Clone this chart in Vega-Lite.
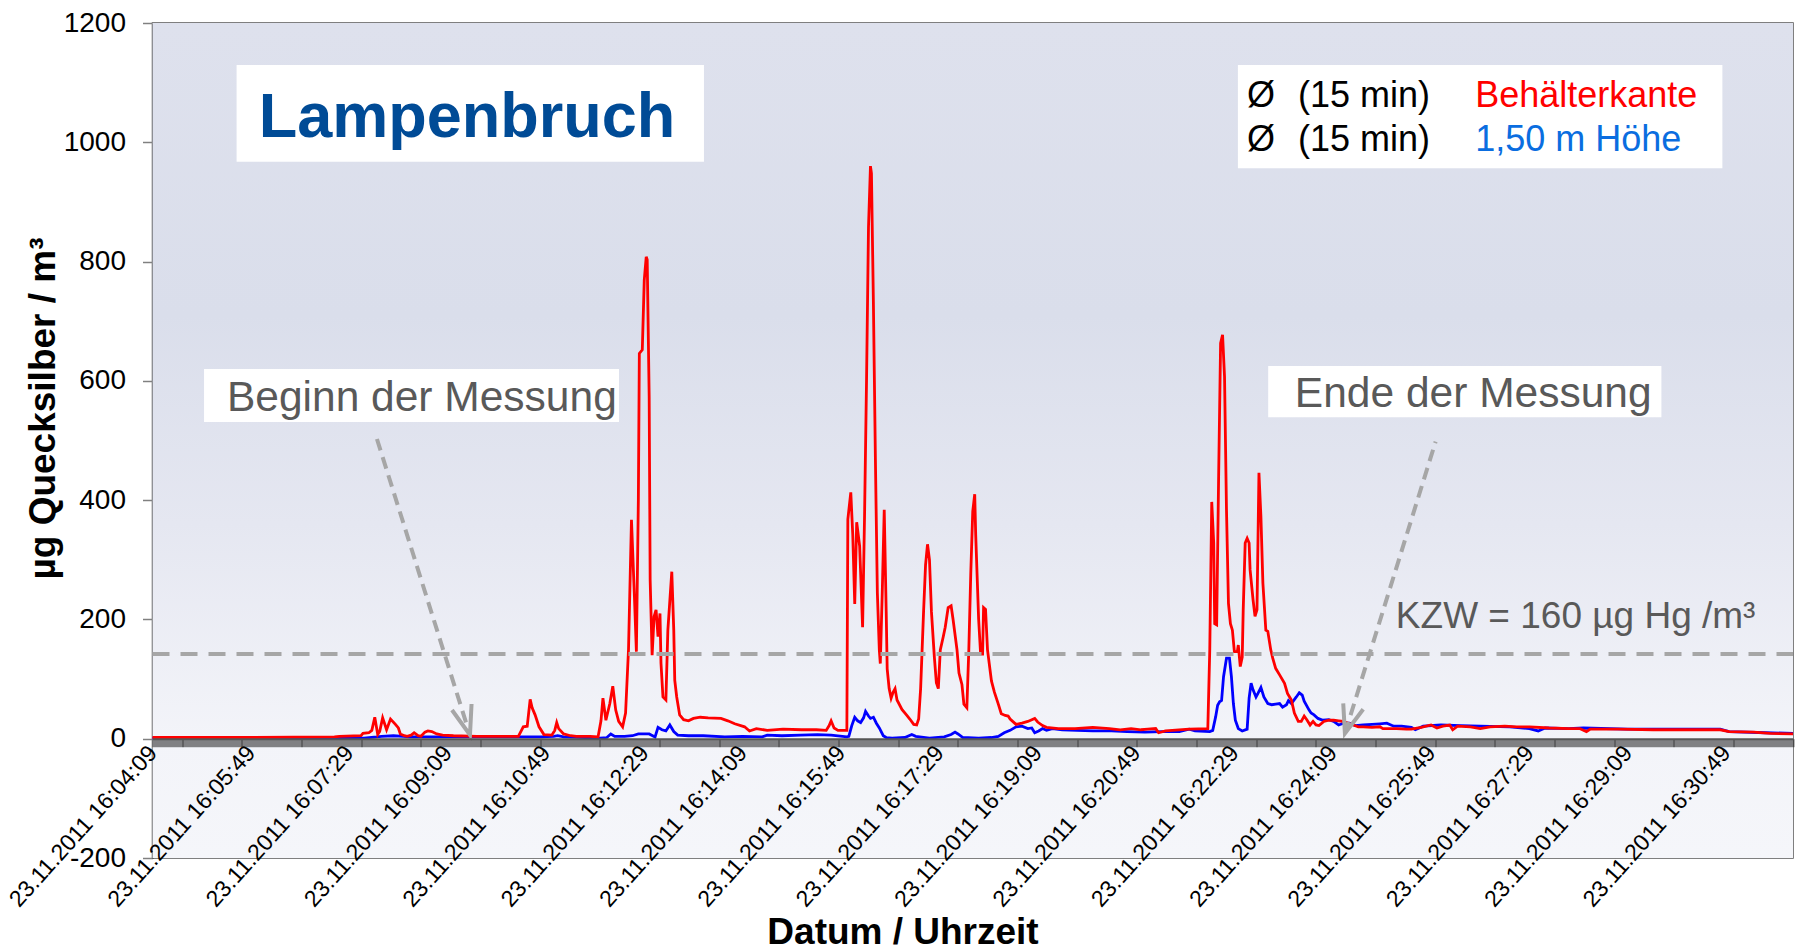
{
"$schema": "https://vega.github.io/schema/vega-lite/v6.json",
"width": 1640.5, "height": 835,
"autosize": {"type": "none"},
"padding": {"left": 152.5, "top": 23, "right": 5, "bottom": 93},
"background": "white",
"view": {"stroke": "#555555", "strokeWidth": 1.5},
"config": {"font": "Liberation Sans"},
"datasets": {
"red": [
{"t":"2011-11-23T16:04:09","v":2},{"t":"2011-11-23T16:05:49","v":2},{"t":"2011-11-23T16:07:14","v":3},{"t":"2011-11-23T16:07:19","v":4},{"t":"2011-11-23T16:07:41","v":5},{"t":"2011-11-23T16:07:43","v":9},{"t":"2011-11-23T16:07:49","v":10},{"t":"2011-11-23T16:07:52","v":14},{"t":"2011-11-23T16:07:55","v":36},{"t":"2011-11-23T16:07:58","v":7},{"t":"2011-11-23T16:08:00","v":12},{"t":"2011-11-23T16:08:03","v":35},{"t":"2011-11-23T16:08:07","v":15},{"t":"2011-11-23T16:08:11","v":33},{"t":"2011-11-23T16:08:16","v":24},{"t":"2011-11-23T16:08:19","v":18},{"t":"2011-11-23T16:08:21","v":8},{"t":"2011-11-23T16:08:25","v":5},{"t":"2011-11-23T16:08:28","v":4},{"t":"2011-11-23T16:08:32","v":6},{"t":"2011-11-23T16:08:35","v":10},{"t":"2011-11-23T16:08:39","v":5},{"t":"2011-11-23T16:08:42","v":4},{"t":"2011-11-23T16:08:46","v":11},{"t":"2011-11-23T16:08:49","v":13},{"t":"2011-11-23T16:08:53","v":12},{"t":"2011-11-23T16:08:58","v":8},{"t":"2011-11-23T16:09:04","v":6},{"t":"2011-11-23T16:09:15","v":5},{"t":"2011-11-23T16:09:39","v":4},{"t":"2011-11-23T16:10:21","v":4},{"t":"2011-11-23T16:10:26","v":20},{"t":"2011-11-23T16:10:30","v":21},{"t":"2011-11-23T16:10:33","v":66},{"t":"2011-11-23T16:10:35","v":52},{"t":"2011-11-23T16:10:38","v":40},{"t":"2011-11-23T16:10:42","v":20},{"t":"2011-11-23T16:10:47","v":7},{"t":"2011-11-23T16:10:55","v":6},{"t":"2011-11-23T16:10:58","v":14},{"t":"2011-11-23T16:11:00","v":27},{"t":"2011-11-23T16:11:02","v":17},{"t":"2011-11-23T16:11:07","v":8},{"t":"2011-11-23T16:11:14","v":5},{"t":"2011-11-23T16:11:20","v":4},{"t":"2011-11-23T16:11:34","v":4},{"t":"2011-11-23T16:11:42","v":3},{"t":"2011-11-23T16:11:45","v":30},{"t":"2011-11-23T16:11:47","v":68},{"t":"2011-11-23T16:11:50","v":31},{"t":"2011-11-23T16:11:54","v":59},{"t":"2011-11-23T16:11:57","v":88},{"t":"2011-11-23T16:12:00","v":48},{"t":"2011-11-23T16:12:03","v":29},{"t":"2011-11-23T16:12:07","v":20},{"t":"2011-11-23T16:12:10","v":43},{"t":"2011-11-23T16:12:13","v":150},{"t":"2011-11-23T16:12:16","v":367},{"t":"2011-11-23T16:12:19","v":238},{"t":"2011-11-23T16:12:21","v":146},{"t":"2011-11-23T16:12:23","v":400},{"t":"2011-11-23T16:12:24","v":646},{"t":"2011-11-23T16:12:27","v":652},{"t":"2011-11-23T16:12:29","v":769},{"t":"2011-11-23T16:12:31","v":808},{"t":"2011-11-23T16:12:32","v":803},{"t":"2011-11-23T16:12:34","v":573},{"t":"2011-11-23T16:12:35","v":266},{"t":"2011-11-23T16:12:37","v":140},{"t":"2011-11-23T16:12:39","v":205},{"t":"2011-11-23T16:12:41","v":216},{"t":"2011-11-23T16:12:43","v":171},{"t":"2011-11-23T16:12:45","v":210},{"t":"2011-11-23T16:12:46","v":127},{"t":"2011-11-23T16:12:48","v":70},{"t":"2011-11-23T16:12:51","v":65},{"t":"2011-11-23T16:12:53","v":182},{"t":"2011-11-23T16:12:57","v":280},{"t":"2011-11-23T16:12:59","v":182},{"t":"2011-11-23T16:13:00","v":98},{"t":"2011-11-23T16:13:02","v":70},{"t":"2011-11-23T16:13:05","v":40},{"t":"2011-11-23T16:13:09","v":32},{"t":"2011-11-23T16:13:14","v":30},{"t":"2011-11-23T16:13:19","v":34},{"t":"2011-11-23T16:13:26","v":36},{"t":"2011-11-23T16:13:34","v":35},{"t":"2011-11-23T16:13:47","v":34},{"t":"2011-11-23T16:13:54","v":30},{"t":"2011-11-23T16:14:01","v":25},{"t":"2011-11-23T16:14:11","v":20},{"t":"2011-11-23T16:14:16","v":13},{"t":"2011-11-23T16:14:23","v":17},{"t":"2011-11-23T16:14:34","v":14},{"t":"2011-11-23T16:14:50","v":16},{"t":"2011-11-23T16:15:09","v":15},{"t":"2011-11-23T16:15:24","v":15},{"t":"2011-11-23T16:15:34","v":14},{"t":"2011-11-23T16:15:37","v":22},{"t":"2011-11-23T16:15:39","v":30},{"t":"2011-11-23T16:15:42","v":18},{"t":"2011-11-23T16:15:46","v":14},{"t":"2011-11-23T16:15:55","v":14},{"t":"2011-11-23T16:15:56","v":368},{"t":"2011-11-23T16:15:59","v":413},{"t":"2011-11-23T16:16:01","v":342},{"t":"2011-11-23T16:16:03","v":226},{"t":"2011-11-23T16:16:05","v":363},{"t":"2011-11-23T16:16:08","v":323},{"t":"2011-11-23T16:16:11","v":187},{"t":"2011-11-23T16:16:13","v":375},{"t":"2011-11-23T16:16:15","v":600},{"t":"2011-11-23T16:16:17","v":858},{"t":"2011-11-23T16:16:19","v":960},{"t":"2011-11-23T16:16:20","v":948},{"t":"2011-11-23T16:16:22","v":729},{"t":"2011-11-23T16:16:24","v":471},{"t":"2011-11-23T16:16:26","v":245},{"t":"2011-11-23T16:16:28","v":149},{"t":"2011-11-23T16:16:29","v":126},{"t":"2011-11-23T16:16:31","v":246},{"t":"2011-11-23T16:16:33","v":384},{"t":"2011-11-23T16:16:35","v":213},{"t":"2011-11-23T16:16:36","v":117},{"t":"2011-11-23T16:16:38","v":84},{"t":"2011-11-23T16:16:40","v":68},{"t":"2011-11-23T16:16:42","v":78},{"t":"2011-11-23T16:16:44","v":84},{"t":"2011-11-23T16:16:46","v":65},{"t":"2011-11-23T16:16:51","v":49},{"t":"2011-11-23T16:16:56","v":39},{"t":"2011-11-23T16:16:59","v":33},{"t":"2011-11-23T16:17:03","v":24},{"t":"2011-11-23T16:17:06","v":23},{"t":"2011-11-23T16:17:08","v":33},{"t":"2011-11-23T16:17:10","v":84},{"t":"2011-11-23T16:17:13","v":213},{"t":"2011-11-23T16:17:15","v":291},{"t":"2011-11-23T16:17:17","v":326},{"t":"2011-11-23T16:17:19","v":300},{"t":"2011-11-23T16:17:21","v":213},{"t":"2011-11-23T16:17:24","v":136},{"t":"2011-11-23T16:17:26","v":94},{"t":"2011-11-23T16:17:28","v":84},{"t":"2011-11-23T16:17:30","v":149},{"t":"2011-11-23T16:17:33","v":171},{"t":"2011-11-23T16:17:35","v":187},{"t":"2011-11-23T16:17:38","v":220},{"t":"2011-11-23T16:17:41","v":223},{"t":"2011-11-23T16:17:43","v":200},{"t":"2011-11-23T16:17:47","v":149},{"t":"2011-11-23T16:17:49","v":110},{"t":"2011-11-23T16:17:52","v":91},{"t":"2011-11-23T16:17:54","v":58},{"t":"2011-11-23T16:17:57","v":52},{"t":"2011-11-23T16:17:59","v":149},{"t":"2011-11-23T16:18:01","v":278},{"t":"2011-11-23T16:18:03","v":381},{"t":"2011-11-23T16:18:05","v":410},{"t":"2011-11-23T16:18:06","v":342},{"t":"2011-11-23T16:18:09","v":200},{"t":"2011-11-23T16:18:11","v":142},{"t":"2011-11-23T16:18:13","v":142},{"t":"2011-11-23T16:18:14","v":220},{"t":"2011-11-23T16:18:16","v":217},{"t":"2011-11-23T16:18:18","v":149},{"t":"2011-11-23T16:18:22","v":97},{"t":"2011-11-23T16:18:25","v":78},{"t":"2011-11-23T16:18:29","v":58},{"t":"2011-11-23T16:18:32","v":42},{"t":"2011-11-23T16:18:36","v":39},{"t":"2011-11-23T16:18:39","v":38},{"t":"2011-11-23T16:18:41","v":33},{"t":"2011-11-23T16:18:47","v":24},{"t":"2011-11-23T16:18:53","v":26},{"t":"2011-11-23T16:18:59","v":29},{"t":"2011-11-23T16:19:06","v":34},{"t":"2011-11-23T16:19:09","v":28},{"t":"2011-11-23T16:19:14","v":22},{"t":"2011-11-23T16:19:18","v":19},{"t":"2011-11-23T16:19:30","v":17},{"t":"2011-11-23T16:19:47","v":17},{"t":"2011-11-23T16:20:05","v":19},{"t":"2011-11-23T16:20:22","v":17},{"t":"2011-11-23T16:20:33","v":15},{"t":"2011-11-23T16:20:44","v":17},{"t":"2011-11-23T16:20:54","v":15},{"t":"2011-11-23T16:21:01","v":16},{"t":"2011-11-23T16:21:09","v":17},{"t":"2011-11-23T16:21:12","v":10},{"t":"2011-11-23T16:21:19","v":13},{"t":"2011-11-23T16:21:43","v":16},{"t":"2011-11-23T16:22:02","v":17},{"t":"2011-11-23T16:22:04","v":150},{"t":"2011-11-23T16:22:06","v":397},{"t":"2011-11-23T16:22:08","v":328},{"t":"2011-11-23T16:22:09","v":193},{"t":"2011-11-23T16:22:11","v":191},{"t":"2011-11-23T16:22:13","v":439},{"t":"2011-11-23T16:22:15","v":663},{"t":"2011-11-23T16:22:17","v":677},{"t":"2011-11-23T16:22:19","v":607},{"t":"2011-11-23T16:22:21","v":383},{"t":"2011-11-23T16:22:23","v":227},{"t":"2011-11-23T16:22:25","v":193},{"t":"2011-11-23T16:22:27","v":182},{"t":"2011-11-23T16:22:29","v":146},{"t":"2011-11-23T16:22:32","v":146},{"t":"2011-11-23T16:22:33","v":157},{"t":"2011-11-23T16:22:35","v":121},{"t":"2011-11-23T16:22:37","v":137},{"t":"2011-11-23T16:22:38","v":216},{"t":"2011-11-23T16:22:40","v":328},{"t":"2011-11-23T16:22:42","v":336},{"t":"2011-11-23T16:22:44","v":328},{"t":"2011-11-23T16:22:45","v":283},{"t":"2011-11-23T16:22:48","v":233},{"t":"2011-11-23T16:22:50","v":205},{"t":"2011-11-23T16:22:52","v":216},{"t":"2011-11-23T16:22:54","v":446},{"t":"2011-11-23T16:22:56","v":372},{"t":"2011-11-23T16:22:58","v":261},{"t":"2011-11-23T16:23:01","v":182},{"t":"2011-11-23T16:23:03","v":180},{"t":"2011-11-23T16:23:06","v":149},{"t":"2011-11-23T16:23:08","v":135},{"t":"2011-11-23T16:23:11","v":118},{"t":"2011-11-23T16:23:15","v":107},{"t":"2011-11-23T16:23:20","v":93},{"t":"2011-11-23T16:23:23","v":76},{"t":"2011-11-23T16:23:27","v":65},{"t":"2011-11-23T16:23:30","v":43},{"t":"2011-11-23T16:23:34","v":29},{"t":"2011-11-23T16:23:37","v":29},{"t":"2011-11-23T16:23:40","v":38},{"t":"2011-11-23T16:23:43","v":31},{"t":"2011-11-23T16:23:46","v":23},{"t":"2011-11-23T16:23:49","v":29},{"t":"2011-11-23T16:23:52","v":23},{"t":"2011-11-23T16:23:55","v":22},{"t":"2011-11-23T16:24:00","v":29},{"t":"2011-11-23T16:24:05","v":31},{"t":"2011-11-23T16:24:10","v":31},{"t":"2011-11-23T16:24:15","v":30},{"t":"2011-11-23T16:24:20","v":29},{"t":"2011-11-23T16:24:25","v":26},{"t":"2011-11-23T16:24:30","v":23},{"t":"2011-11-23T16:24:35","v":20},{"t":"2011-11-23T16:24:40","v":20},{"t":"2011-11-23T16:24:49","v":19},{"t":"2011-11-23T16:24:57","v":20},{"t":"2011-11-23T16:25:00","v":17},{"t":"2011-11-23T16:25:14","v":17},{"t":"2011-11-23T16:25:24","v":16},{"t":"2011-11-23T16:25:29","v":16},{"t":"2011-11-23T16:25:39","v":19},{"t":"2011-11-23T16:25:49","v":23},{"t":"2011-11-23T16:25:55","v":18},{"t":"2011-11-23T16:26:01","v":21},{"t":"2011-11-23T16:26:08","v":23},{"t":"2011-11-23T16:26:11","v":15},{"t":"2011-11-23T16:26:16","v":21},{"t":"2011-11-23T16:26:29","v":20},{"t":"2011-11-23T16:26:39","v":17},{"t":"2011-11-23T16:26:49","v":20},{"t":"2011-11-23T16:27:04","v":21},{"t":"2011-11-23T16:27:16","v":20},{"t":"2011-11-23T16:27:29","v":20},{"t":"2011-11-23T16:27:49","v":18},{"t":"2011-11-23T16:28:09","v":17},{"t":"2011-11-23T16:28:20","v":17},{"t":"2011-11-23T16:28:27","v":12},{"t":"2011-11-23T16:28:31","v":16},{"t":"2011-11-23T16:28:59","v":16},{"t":"2011-11-23T16:29:35","v":15},{"t":"2011-11-23T16:30:09","v":15},{"t":"2011-11-23T16:30:43","v":15},{"t":"2011-11-23T16:30:52","v":12},{"t":"2011-11-23T16:31:17","v":11},{"t":"2011-11-23T16:31:34","v":9},{"t":"2011-11-23T16:31:57","v":8}
],
"blue": [
{"t":"2011-11-23T16:04:09","v":1},{"t":"2011-11-23T16:07:09","v":1},{"t":"2011-11-23T16:07:44","v":1},{"t":"2011-11-23T16:07:57","v":3},{"t":"2011-11-23T16:08:02","v":4},{"t":"2011-11-23T16:08:14","v":5},{"t":"2011-11-23T16:08:24","v":4},{"t":"2011-11-23T16:08:31","v":3},{"t":"2011-11-23T16:09:09","v":3},{"t":"2011-11-23T16:10:19","v":3},{"t":"2011-11-23T16:10:44","v":3},{"t":"2011-11-23T16:10:57","v":4},{"t":"2011-11-23T16:11:01","v":5},{"t":"2011-11-23T16:11:07","v":3},{"t":"2011-11-23T16:11:29","v":2},{"t":"2011-11-23T16:11:44","v":1},{"t":"2011-11-23T16:11:51","v":2},{"t":"2011-11-23T16:11:55","v":8},{"t":"2011-11-23T16:11:59","v":4},{"t":"2011-11-23T16:12:09","v":4},{"t":"2011-11-23T16:12:17","v":5},{"t":"2011-11-23T16:12:23","v":8},{"t":"2011-11-23T16:12:34","v":8},{"t":"2011-11-23T16:12:40","v":3},{"t":"2011-11-23T16:12:43","v":19},{"t":"2011-11-23T16:12:47","v":15},{"t":"2011-11-23T16:12:51","v":13},{"t":"2011-11-23T16:12:55","v":23},{"t":"2011-11-23T16:12:59","v":12},{"t":"2011-11-23T16:13:03","v":6},{"t":"2011-11-23T16:13:14","v":5},{"t":"2011-11-23T16:13:29","v":5},{"t":"2011-11-23T16:13:51","v":3},{"t":"2011-11-23T16:14:09","v":4},{"t":"2011-11-23T16:14:29","v":3},{"t":"2011-11-23T16:14:34","v":6},{"t":"2011-11-23T16:14:49","v":5},{"t":"2011-11-23T16:15:08","v":6},{"t":"2011-11-23T16:15:25","v":7},{"t":"2011-11-23T16:15:39","v":6},{"t":"2011-11-23T16:15:55","v":3},{"t":"2011-11-23T16:15:57","v":4},{"t":"2011-11-23T16:16:00","v":22},{"t":"2011-11-23T16:16:03","v":36},{"t":"2011-11-23T16:16:06","v":30},{"t":"2011-11-23T16:16:09","v":27},{"t":"2011-11-23T16:16:12","v":35},{"t":"2011-11-23T16:16:14","v":46},{"t":"2011-11-23T16:16:17","v":38},{"t":"2011-11-23T16:16:19","v":34},{"t":"2011-11-23T16:16:22","v":36},{"t":"2011-11-23T16:16:25","v":26},{"t":"2011-11-23T16:16:28","v":18},{"t":"2011-11-23T16:16:32","v":5},{"t":"2011-11-23T16:16:35","v":2},{"t":"2011-11-23T16:16:41","v":1},{"t":"2011-11-23T16:16:54","v":2},{"t":"2011-11-23T16:17:01","v":7},{"t":"2011-11-23T16:17:05","v":4},{"t":"2011-11-23T16:17:19","v":1},{"t":"2011-11-23T16:17:34","v":3},{"t":"2011-11-23T16:17:41","v":7},{"t":"2011-11-23T16:17:45","v":11},{"t":"2011-11-23T16:17:48","v":8},{"t":"2011-11-23T16:17:53","v":2},{"t":"2011-11-23T16:18:09","v":1},{"t":"2011-11-23T16:18:22","v":2},{"t":"2011-11-23T16:18:29","v":4},{"t":"2011-11-23T16:18:35","v":10},{"t":"2011-11-23T16:18:41","v":14},{"t":"2011-11-23T16:18:47","v":20},{"t":"2011-11-23T16:18:53","v":21},{"t":"2011-11-23T16:18:59","v":17},{"t":"2011-11-23T16:19:03","v":18},{"t":"2011-11-23T16:19:06","v":10},{"t":"2011-11-23T16:19:10","v":13},{"t":"2011-11-23T16:19:14","v":17},{"t":"2011-11-23T16:19:18","v":14},{"t":"2011-11-23T16:19:24","v":17},{"t":"2011-11-23T16:19:34","v":15},{"t":"2011-11-23T16:19:49","v":14},{"t":"2011-11-23T16:20:05","v":13},{"t":"2011-11-23T16:20:24","v":13},{"t":"2011-11-23T16:20:40","v":12},{"t":"2011-11-23T16:20:58","v":11},{"t":"2011-11-23T16:21:15","v":12},{"t":"2011-11-23T16:21:33","v":12},{"t":"2011-11-23T16:21:43","v":16},{"t":"2011-11-23T16:21:49","v":13},{"t":"2011-11-23T16:22:04","v":12},{"t":"2011-11-23T16:22:07","v":14},{"t":"2011-11-23T16:22:10","v":37},{"t":"2011-11-23T16:22:12","v":56},{"t":"2011-11-23T16:22:14","v":62},{"t":"2011-11-23T16:22:16","v":64},{"t":"2011-11-23T16:22:18","v":104},{"t":"2011-11-23T16:22:21","v":135},{"t":"2011-11-23T16:22:24","v":135},{"t":"2011-11-23T16:22:26","v":104},{"t":"2011-11-23T16:22:28","v":59},{"t":"2011-11-23T16:22:30","v":31},{"t":"2011-11-23T16:22:33","v":17},{"t":"2011-11-23T16:22:37","v":13},{"t":"2011-11-23T16:22:42","v":16},{"t":"2011-11-23T16:22:44","v":68},{"t":"2011-11-23T16:22:46","v":93},{"t":"2011-11-23T16:22:48","v":82},{"t":"2011-11-23T16:22:51","v":70},{"t":"2011-11-23T16:22:53","v":76},{"t":"2011-11-23T16:22:56","v":86},{"t":"2011-11-23T16:22:59","v":70},{"t":"2011-11-23T16:23:03","v":59},{"t":"2011-11-23T16:23:07","v":57},{"t":"2011-11-23T16:23:11","v":58},{"t":"2011-11-23T16:23:15","v":59},{"t":"2011-11-23T16:23:18","v":53},{"t":"2011-11-23T16:23:22","v":57},{"t":"2011-11-23T16:23:24","v":64},{"t":"2011-11-23T16:23:27","v":59},{"t":"2011-11-23T16:23:32","v":70},{"t":"2011-11-23T16:23:35","v":77},{"t":"2011-11-23T16:23:38","v":73},{"t":"2011-11-23T16:23:40","v":63},{"t":"2011-11-23T16:23:45","v":48},{"t":"2011-11-23T16:23:47","v":43},{"t":"2011-11-23T16:23:50","v":40},{"t":"2011-11-23T16:23:54","v":34},{"t":"2011-11-23T16:23:59","v":31},{"t":"2011-11-23T16:24:05","v":32},{"t":"2011-11-23T16:24:10","v":29},{"t":"2011-11-23T16:24:15","v":23},{"t":"2011-11-23T16:24:20","v":26},{"t":"2011-11-23T16:24:26","v":26},{"t":"2011-11-23T16:24:32","v":22},{"t":"2011-11-23T16:24:40","v":23},{"t":"2011-11-23T16:24:49","v":24},{"t":"2011-11-23T16:24:57","v":25},{"t":"2011-11-23T16:25:04","v":26},{"t":"2011-11-23T16:25:11","v":21},{"t":"2011-11-23T16:25:19","v":21},{"t":"2011-11-23T16:25:29","v":19},{"t":"2011-11-23T16:25:33","v":15},{"t":"2011-11-23T16:25:41","v":21},{"t":"2011-11-23T16:25:59","v":23},{"t":"2011-11-23T16:26:19","v":22},{"t":"2011-11-23T16:26:39","v":21},{"t":"2011-11-23T16:27:09","v":20},{"t":"2011-11-23T16:27:29","v":17},{"t":"2011-11-23T16:27:38","v":13},{"t":"2011-11-23T16:27:45","v":18},{"t":"2011-11-23T16:28:09","v":17},{"t":"2011-11-23T16:28:24","v":18},{"t":"2011-11-23T16:29:09","v":16},{"t":"2011-11-23T16:30:09","v":16},{"t":"2011-11-23T16:30:43","v":16},{"t":"2011-11-23T16:30:52","v":12},{"t":"2011-11-23T16:31:29","v":10},{"t":"2011-11-23T16:31:57","v":9}
]
},
"encoding": {
"x": {"field": "t", "type": "temporal", "title": "Datum / Uhrzeit",
 "scale": {"nice": false},
 "axis": {"offset": -119.3, "grid": false, "zindex": 1,
  "tickCount": 1669, "tickSize": 8, "tickColor": "#111111", "tickWidth": 0.6,
  "domainColor": "#555555", "domainWidth": 2,
  "labelExpr": "round((datum.value - datetime(2011,10,23,16,4,9))/1000) % 100 == 0 ? timeFormat(datum.value, '%d.%m.%Y %H:%M:%S') : ''",
  "labelAngle": -48, "labelAlign": "right", "labelBaseline": "middle", "labelFontSize": 23, "labelColor": "#000000", "labelPadding": 2, "labelLimit": 500,
  "labelOverlap": false, "labelBound": false, "labelFlush": false,
  "titleFontSize": 37, "titleFontWeight": "bold", "titleColor": "#000000", "titleX": 750, "titleY": 205, "titleAlign": "center", "titleBaseline": "alphabetic"}},
"y": {"field": "v", "type": "quantitative", "title": "µg Quecksilber / m³",
 "scale": {"domain": [-200, 1200], "nice": false, "zero": false},
 "axis": {"values": [-200, 0, 200, 400, 600, 800, 1000, 1200], "grid": false,
  "tickSize": 10, "tickColor": "#808080", "tickWidth": 1.5, "domainColor": "#333333", "domainWidth": 1.5,
  "labelExpr": "'' + datum.value", "labelFontSize": 28, "labelColor": "#000000", "labelPadding": 17,
  "titleFontSize": 37, "titleFontWeight": "bold", "titleColor": "#000000", "titleX": -109, "titleY": 385, "titleAngle": 270, "titleAlign": "center", "titleBaseline": "middle"}}
},
"layer": [
{"data": {"values": [{"t": "2011-11-23T16:04:09", "t2": "2011-11-23T16:31:57", "v": 1200, "v2": -200}]},
 "mark": {"type": "rect", "fill": {"gradient": "linear", "x1": 0, "y1": 0, "x2": 0, "y2": 1, "stops": [{"offset": 0, "color": "#dee1ed"}, {"offset": 0.35, "color": "#dadeeb"}, {"offset": 0.6, "color": "#e5e7f1"}, {"offset": 0.857, "color": "#f3f4f9"}, {"offset": 1, "color": "#f5f6fa"}]}},
 "encoding": {"x2": {"field": "t2"}, "y2": {"field": "v2"}}},
{"data": {"values": [
 {"t": "2011-11-23T16:05:34.500", "t2": "2011-11-23T16:13:29.700", "v": 1129.6, "v2": 967.5},
 {"t": "2011-11-23T16:22:32.600", "t2": "2011-11-23T16:30:45.200", "v": 1129.6, "v2": 956.4},
 {"t": "2011-11-23T16:05:01.400", "t2": "2011-11-23T16:12:03.300", "v": 619.9, "v2": 531.1},
 {"t": "2011-11-23T16:23:03.400", "t2": "2011-11-23T16:29:43.200", "v": 624.9, "v2": 538.9}]},
 "mark": {"type": "rect", "fill": "#ffffff"},
 "encoding": {"x2": {"field": "t2"}, "y2": {"field": "v2"}}},
{"data": {"name": "blue"}, "mark": {"type": "line", "color": "#0000ff", "strokeWidth": 2.8}},
{"data": {"name": "red"}, "mark": {"type": "line", "color": "#ff0000", "strokeWidth": 2.8}},
{"data": {"values": [{"t": "2011-11-23T16:04:09", "t2": "2011-11-23T16:31:57", "v": 142}]},
 "mark": {"type": "rule", "color": "#a6a6a6", "strokeWidth": 4, "strokeDash": [17, 11]},
 "encoding": {"x2": {"field": "t2"}}},
{"data": {"values": [
 {"a": "b", "t": "2011-11-23T16:07:57.200", "v": 502.5}, {"a": "b", "t": "2011-11-23T16:09:31.800", "v": 6.2},
 {"a": "e", "t": "2011-11-23T16:25:53.600", "v": 498}, {"a": "e", "t": "2011-11-23T16:24:21.400", "v": 9}]},
 "mark": {"type": "line", "color": "#a6a6a6", "strokeWidth": 4, "strokeDash": [12, 7]},
 "encoding": {"detail": {"field": "a"}}},
{"data": {"values": [
 {"a": "b", "t": "2011-11-23T16:09:13.500", "v": 48.1}, {"a": "b", "t": "2011-11-23T16:09:31.800", "v": 6.2}, {"a": "b", "t": "2011-11-23T16:09:33.400", "v": 58.2},
 {"a": "e", "t": "2011-11-23T16:24:19.700", "v": 59.4}, {"a": "e", "t": "2011-11-23T16:24:21.400", "v": 9}, {"a": "e", "t": "2011-11-23T16:24:40", "v": 49.3}]},
 "mark": {"type": "line", "color": "#a6a6a6", "strokeWidth": 4},
 "encoding": {"detail": {"field": "a"}}},
{"data": {"values": [{"t": "2011-11-23T16:09:28.800", "v": 1009.4, "label": "Lampenbruch"}]},
 "mark": {"type": "text", "align": "center", "baseline": "alphabetic", "fontSize": 63, "fontWeight": "bold", "color": "#004b96"},
 "encoding": {"text": {"field": "label"}}},
{"data": {"values": [
 {"t": "2011-11-23T16:22:41.800", "v": 1059.7, "label": "Ø"}, {"t": "2011-11-23T16:22:41.800", "v": 985.9, "label": "Ø"},
 {"t": "2011-11-23T16:23:33.600", "v": 1059.7, "label": "(15 min)"}, {"t": "2011-11-23T16:23:33.600", "v": 985.9, "label": "(15 min)"}]},
 "mark": {"type": "text", "align": "left", "baseline": "alphabetic", "fontSize": 36, "color": "#000000"},
 "encoding": {"text": {"field": "label"}}},
{"data": {"values": [{"t": "2011-11-23T16:26:33.800", "v": 1059.7, "label": "Behälterkante"}]},
 "mark": {"type": "text", "align": "left", "baseline": "alphabetic", "fontSize": 36, "color": "#ff0000"},
 "encoding": {"text": {"field": "label"}}},
{"data": {"values": [{"t": "2011-11-23T16:26:33.800", "v": 985.9, "label": "1,50 m Höhe"}]},
 "mark": {"type": "text", "align": "left", "baseline": "alphabetic", "fontSize": 36, "color": "#0a6de0"},
 "encoding": {"text": {"field": "label"}}},
{"data": {"values": [
 {"t": "2011-11-23T16:05:24.700", "v": 549.5, "label": "Beginn der Messung"},
 {"t": "2011-11-23T16:23:30.500", "v": 555.7, "label": "Ende der Messung"}]},
 "mark": {"type": "text", "align": "left", "baseline": "alphabetic", "fontSize": 42.5, "color": "#595959"},
 "encoding": {"text": {"field": "label"}}},
{"data": {"values": [{"t": "2011-11-23T16:25:13.200", "v": 185.1, "label": "KZW = 160 µg Hg /m³"}]},
 "mark": {"type": "text", "align": "left", "baseline": "alphabetic", "fontSize": 37, "color": "#595959"},
 "encoding": {"text": {"field": "label"}}}
]
}
